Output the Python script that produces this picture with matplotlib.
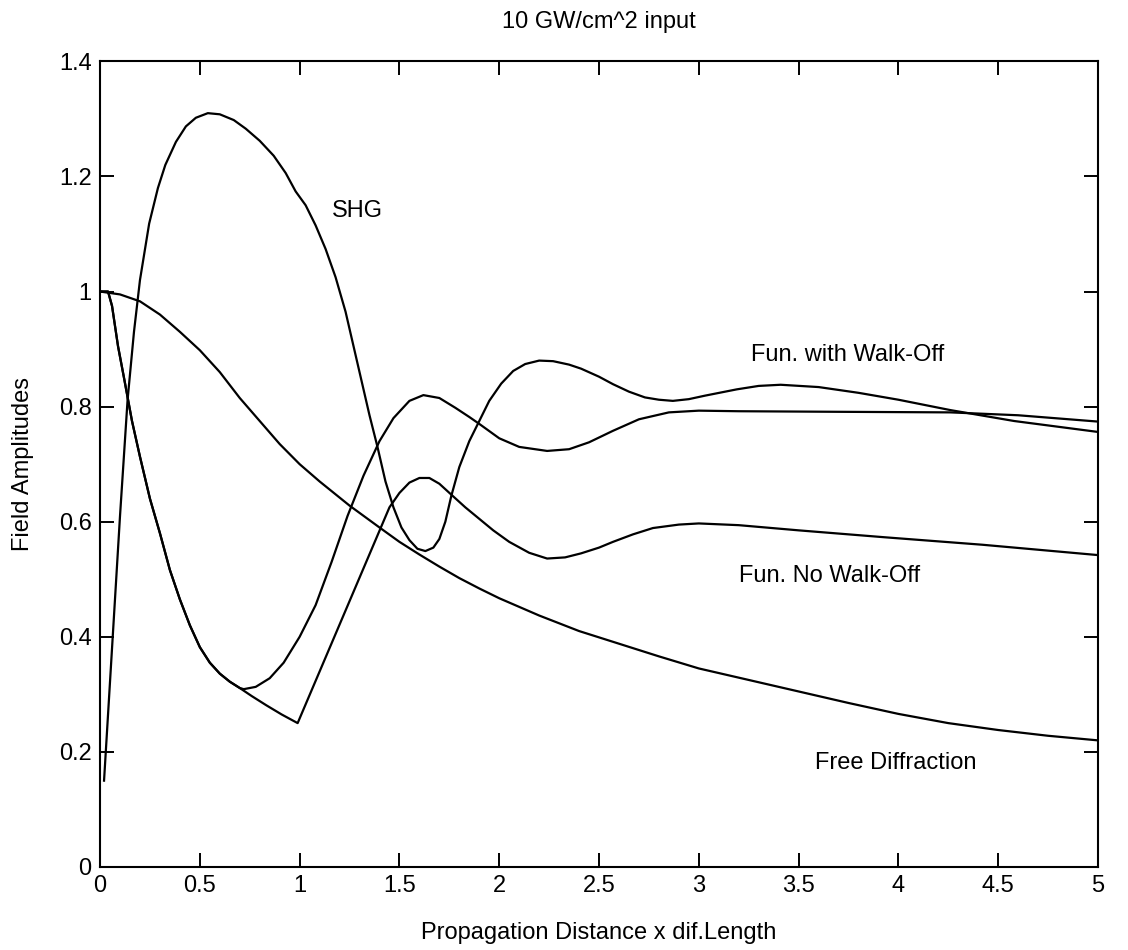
"""Field amplitudes vs propagation distance, 10 GW/cm^2 input."""

import matplotlib

matplotlib.use("Agg")
import matplotlib.pyplot as plt

# values
free_x = [0.0, 0.1, 0.2, 0.3, 0.4, 0.5, 0.6, 0.7, 0.8, 0.9, 1.0, 1.1, 1.25, 1.4,
          1.5, 1.6, 1.7, 1.8, 1.9, 2.0, 2.2, 2.4, 2.6, 2.8, 3.0, 3.25, 3.5, 3.75,
          4.0, 4.25, 4.5, 4.75, 5.0]
free_y = [1.0, 0.995, 0.983, 0.96, 0.93, 0.898, 0.86, 0.815, 0.775, 0.735, 0.70,
          0.67, 0.628, 0.59, 0.565, 0.543, 0.522, 0.502, 0.484, 0.467, 0.437,
          0.41, 0.388, 0.366, 0.345, 0.325, 0.305, 0.285, 0.266, 0.25, 0.238,
          0.228, 0.22]

shg_x = [0.02, 0.06, 0.1, 0.138, 0.17, 0.2, 0.246, 0.29, 0.327, 0.38, 0.43,
         0.48, 0.54, 0.6, 0.67, 0.73, 0.8, 0.87, 0.93, 0.98, 1.03, 1.08, 1.13,
         1.18, 1.23, 1.27, 1.31, 1.35, 1.39, 1.43, 1.47, 1.51, 1.55, 1.59, 1.63,
         1.67, 1.70, 1.73, 1.76, 1.8, 1.85, 1.9, 1.95, 2.01, 2.07, 2.13, 2.2,
         2.27, 2.35, 2.41, 2.5, 2.57, 2.65, 2.73, 2.8, 2.87, 2.95, 3.03, 3.19,
         3.3, 3.41, 3.6, 3.8, 4.0, 4.26, 4.58, 5.0]
shg_y = [0.15, 0.38, 0.61, 0.812, 0.93, 1.02, 1.118, 1.18, 1.22, 1.26, 1.287,
         1.302, 1.31, 1.308, 1.298, 1.283, 1.262, 1.236, 1.206, 1.174, 1.15,
         1.115, 1.074, 1.025, 0.965, 0.905, 0.845, 0.785, 0.73, 0.67, 0.625,
         0.59, 0.568, 0.553, 0.549, 0.555, 0.57, 0.6, 0.645, 0.695, 0.74, 0.775,
         0.81, 0.84, 0.862, 0.874, 0.88, 0.879, 0.873, 0.866, 0.852, 0.839,
         0.826, 0.816, 0.812, 0.81, 0.813, 0.819, 0.83, 0.836, 0.838, 0.834,
         0.824, 0.812, 0.794, 0.775, 0.756]

# both fundamental curves share the first stretch
start_x = [0.0, 0.04, 0.06, 0.09, 0.12, 0.16, 0.2, 0.25, 0.3, 0.35, 0.4, 0.45,
           0.5, 0.55, 0.6, 0.65, 0.7]
start_y = [1.0, 1.0, 0.975, 0.905, 0.85, 0.775, 0.713, 0.64, 0.58, 0.516, 0.465,
           0.42, 0.382, 0.355, 0.336, 0.322, 0.311]

walk_x = start_x + [0.72, 0.78, 0.85, 0.92, 1.0, 1.08, 1.16, 1.24, 1.32, 1.4,
                    1.47, 1.55, 1.62, 1.7, 1.78, 1.85, 1.9, 2.0, 2.1, 2.24, 2.35,
                    2.45, 2.57, 2.7, 2.85, 3.0, 3.2, 3.7, 4.26, 4.6, 5.0]
walk_y = start_y + [0.309, 0.313, 0.328, 0.355, 0.40, 0.455, 0.53, 0.61, 0.68,
                    0.74, 0.78, 0.81, 0.82, 0.815, 0.798, 0.782, 0.77, 0.745,
                    0.73, 0.723, 0.726, 0.738, 0.758, 0.778, 0.79, 0.793, 0.792,
                    0.791, 0.79, 0.785, 0.774]

nowalk_x = start_x + [0.76, 0.833, 0.91, 0.99, 1.45, 1.5, 1.55, 1.6, 1.65, 1.7,
                      1.76, 1.83, 1.9, 1.97, 2.05, 2.15, 2.24, 2.33, 2.41, 2.5,
                      2.57, 2.67, 2.77, 2.9, 3.0, 3.2, 3.5, 3.93, 4.42, 5.0]
nowalk_y = start_y + [0.297, 0.281, 0.265, 0.25, 0.625, 0.65, 0.668, 0.676,
                      0.676, 0.666, 0.647, 0.625, 0.605, 0.585, 0.565, 0.546,
                      0.536, 0.538, 0.545, 0.555, 0.565, 0.578, 0.589, 0.595,
                      0.597, 0.594, 0.585, 0.573, 0.56, 0.542]

x_ticks = [0, 0.5, 1, 1.5, 2, 2.5, 3, 3.5, 4, 4.5, 5]
x_tick_labels = ["0", "0.5", "1", "1.5", "2", "2.5", "3", "3.5", "4", "4.5", "5"]
y_ticks = [0, 0.2, 0.4, 0.6, 0.8, 1.0, 1.2, 1.4]
y_tick_labels = ["0", "0.2", "0.4", "0.6", "0.8", "1", "1.2", "1.4"]

plt.rcParams["font.family"] = ["Liberation Sans", "DejaVu Sans"]
FS = 17

fig = plt.figure(figsize=(11.28, 9.5), dpi=100)
ax = fig.add_axes([0.0887, 0.0874, 0.8847, 0.848])

for xs, ys in [(free_x, free_y), (shg_x, shg_y), (walk_x, walk_y), (nowalk_x, nowalk_y)]:
    ax.plot(xs, ys, color="black", lw=1.6)

ax.text(1.16, 1.14, "SHG", fontsize=FS, va="center")
ax.text(3.26, 0.89, "Fun. with Walk-Off", fontsize=FS, va="center")
ax.text(3.2, 0.505, "Fun. No Walk-Off", fontsize=FS, va="center")
ax.text(3.58, 0.18, "Free Diffraction", fontsize=FS, va="center")

ax.set_xlim(0, 5)
ax.set_ylim(0, 1.4)
ax.set_xticks(x_ticks, x_tick_labels)
ax.set_yticks(y_ticks, y_tick_labels)
ax.tick_params(direction="in", length=10, width=1.4, labelsize=FS,
               top=True, right=True, pad=6)
for side in ax.spines.values():
    side.set_linewidth(1.5)

ax.set_title("10 GW/cm^2 input", fontsize=FS, pad=24)
ax.set_xlabel("Propagation Distance x dif.Length", fontsize=FS, labelpad=18)
ax.set_ylabel("Field Amplitudes", fontsize=FS, labelpad=18)

fig.savefig("out.png", dpi=100)
